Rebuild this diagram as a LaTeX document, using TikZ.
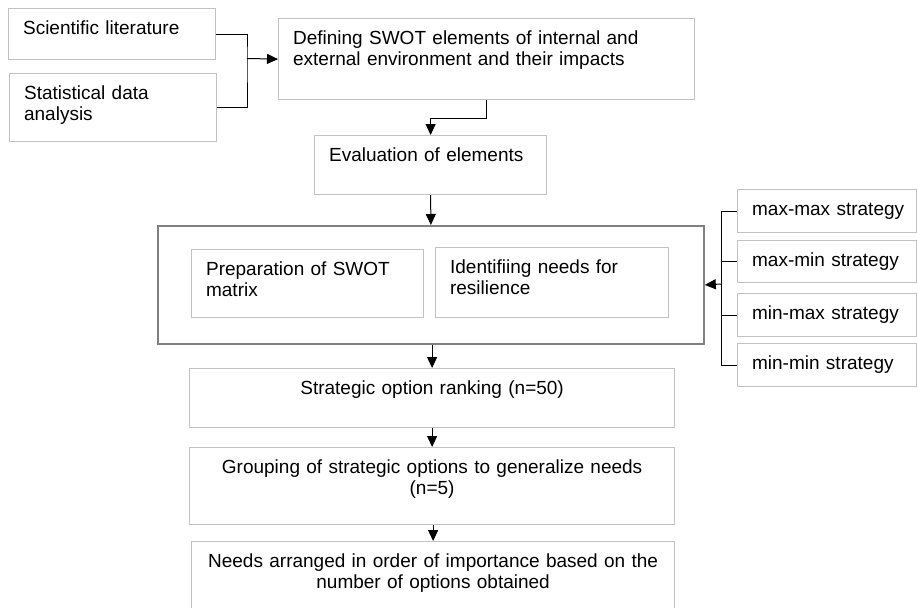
\documentclass[tikz,border=0pt]{standalone}
\usepackage{fontspec}
\setmainfont{Liberation Sans}
\usetikzlibrary{arrows.meta,positioning}
\definecolor{boxgray}{gray}{0.76}
\definecolor{framegray}{gray}{0.5}

\begin{document}
\begin{tikzpicture}[
    x=1pt, y=-1pt,
    box/.style 2 args={draw=boxgray, line width=1.2pt, anchor=north west,
      inner xsep=14.5pt, inner ysep=0pt, text width={#1-29pt},
      text height=25.5pt, text depth={#2-25.5pt}, align=left,
      font=\fontsize{19}{21}\selectfont},
    wire/.style={line width=1pt},
    link/.style={wire, -{Triangle[length=11pt,width=10pt]}}
  ]
  \path[use as bounding box, clip] (0,0) rectangle (917,607);
  % sources of information
  \node[box={207}{51}] (lit) at (8,8) {Scientific literature};
  \node[box={207}{68}] (stat) at (9,73) {Statistical data\\analysis};
  \node[box={416}{81}] (defn) at (278,18)
    {Defining SWOT elements of internal and\\external environment and their impacts};
  \node[box={232}{59}] (eval) at (314,135) {Evaluation of elements};
  % SWOT frame with its two steps
  \node[draw=framegray, line width=1.8pt, anchor=north west, inner sep=0pt,
    minimum width=546pt, minimum height=118pt] (frame) at (157,225) {};
  \node[box={232}{68}] (prep) at (191,249) {Preparation of SWOT\\matrix};
  \node[box={233}{70}] (need) at (435,247) {Identifiing needs for\\resilience};
  % strategies on the right
  \foreach \i/\yy/\hh/\txt in {1/189/43/max-max strategy, 2/240/42/max-min strategy,
      3/293/43/min-max strategy, 4/343/43/min-min strategy}{
    \node[box={179}{\hh}] (s\i) at (737,\yy) {\mbox{\txt}};
  }
  % ranking and grouping
  \node[box={485}{59}, align=center] (rank) at (189,368) {Strategic option ranking (n=50)};
  \node[box={485}{77}, align=center] (group) at (189,447)
    {Grouping of strategic options to generalize needs\\(n=5)};
  \node[box={483}{90}, align=center] (order) at (191,541)
    {Needs arranged in order of importance based on the\\number of options obtained};

  % connectors
  \coordinate (merge) at (247,58.5);
  \draw[wire] (lit.east) -| (merge) |- (stat.east);
  \draw[link] (merge) -- (defn.west);
  \draw[link] (defn.south) -- ++(0,18) -| (eval.north);
  \draw[link] (eval.south) -- (frame.north);
  \coordinate (bus) at (721,284);
  \draw[wire] (s1.west) -| (bus) |- (s4.west);
  \foreach \i in {2,3}
    \draw[wire] (s\i.west) -- (s\i.west -| bus);
  \draw[link] (bus) -- (frame.east);
  \draw[link] (rank.north |- frame.south) -- (rank.north);
  \draw[link] (rank.south) -- (rank.south |- group.north);
  \draw[link] (order.north |- group.south) -- (order.north);
\end{tikzpicture}
\end{document}
